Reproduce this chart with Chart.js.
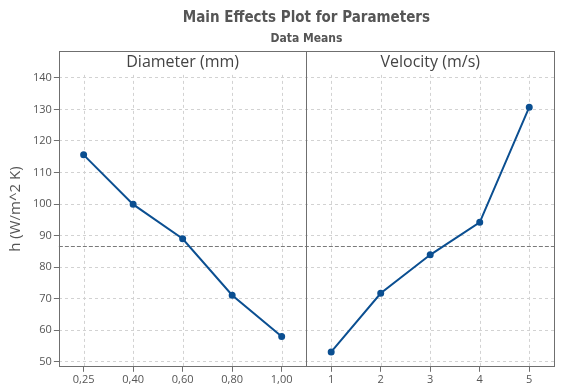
<!DOCTYPE html>
<html>
<head>
<meta charset="utf-8">
<script src="https://cdn.jsdelivr.net/npm/chart.js@4.4.1/dist/chart.umd.min.js"></script>
<style>
html, body { margin: 0; padding: 0; background: #fff; }
#wrap { width: 565px; height: 387px; }
</style>
</head>
<body>
<div id="wrap"><canvas id="grafica"></canvas></div>
<script>
var diametros = ['0,25', '0,40', '0,60', '0,80', '1,00'];
var velocidades = ['1', '2', '3', '4', '5'];
var hDiametro = [115.6, 99.9, 89.0, 71.1, 58.0];
var hVelocidad = [53.1, 71.7, 83.9, 94.2, 130.7];
var paneles = ['Diameter (mm)', 'Velocity (m/s)'];
var ticksY = [50, 60, 70, 80, 90, 100, 110, 120, 130, 140];

var etiquetas = diametros.concat(velocidades);
var vacios = diametros.map(function(){ return null; });
var todos = hDiametro.concat(hVelocidad);
var media = todos.reduce(function(a, b){ return a + b; }, 0) / todos.length;

var azul = '#0b4f91';
var gris = '#6f6f6f';

var panelPlugin = {
    id: 'panel',
    beforeDatasetsDraw: function(chart) {
        var ctx = chart.ctx;
        var area = chart.chartArea;
        var x = chart.scales.x;
        var y = chart.scales.y;
        var arriba = y.getPixelForValue(ticksY[ticksY.length - 1]);

        ctx.save();
        // lineas verticales de la rejilla
        ctx.strokeStyle = '#d2d2d2';
        ctx.lineWidth = 1;
        ctx.setLineDash([3, 3]);
        for (var i = 0; i < etiquetas.length; i++) {
            var px = Math.round(x.getPixelForValue(i)) + 0.5;
            ctx.beginPath();
            ctx.moveTo(px, arriba - 3);
            ctx.lineTo(px, area.bottom);
            ctx.stroke();
        }
        // linea de la media
        var py = Math.round(y.getPixelForValue(media)) + 0.5;
        ctx.strokeStyle = '#7a7a7a';
        ctx.setLineDash([4, 2]);
        ctx.beginPath();
        ctx.moveTo(area.left, py);
        ctx.lineTo(area.right, py);
        ctx.stroke();
        ctx.restore();
    },
    afterDatasetsDraw: function(chart) {
        var ctx = chart.ctx;
        var area = chart.chartArea;
        var x = chart.scales.x;
        var medio = (x.getPixelForValue(diametros.length - 1) + x.getPixelForValue(diametros.length)) / 2;
        var div = Math.round(medio) + 0.5;

        ctx.save();
        ctx.strokeStyle = gris;
        ctx.lineWidth = 1;
        ctx.beginPath();
        ctx.moveTo(div, area.top);
        ctx.lineTo(div, area.bottom);
        ctx.stroke();
        ctx.strokeRect(Math.round(area.left) + 0.5, Math.round(area.top) + 0.5,
            Math.round(area.right - area.left), Math.round(area.bottom - area.top));

        ctx.fillStyle = '#444';
        ctx.font = '16px "Open Sans", sans-serif';
        ctx.textAlign = 'center';
        ctx.textBaseline = 'middle';
        ctx.fillText(paneles[0], (area.left + medio) / 2, area.top + 11);
        ctx.fillText(paneles[1], (medio + area.right) / 2, area.top + 11);
        ctx.restore();
    }
};

var ctx = document.getElementById('grafica').getContext('2d');
new Chart(ctx, {
    type: 'line',
    data: {
        labels: etiquetas,
        datasets: [
            {
                label: paneles[0],
                data: hDiametro.concat(vacios),
                borderColor: azul,
                backgroundColor: azul,
                borderWidth: 2,
                pointRadius: 2.5,
                spanGaps: false
            },
            {
                label: paneles[1],
                data: vacios.concat(hVelocidad),
                borderColor: azul,
                backgroundColor: azul,
                borderWidth: 2,
                pointRadius: 2.5,
                spanGaps: false
            }
        ]
    },
    options: {
        responsive: true,
        maintainAspectRatio: false,
        animation: false,
        layout: { padding: { left: 7, right: 11, top: 0, bottom: 0 } },
        plugins: {
            legend: { display: false },
            tooltip: { enabled: false },
            title: {
                display: true,
                text: 'Main Effects Plot for Parameters',
                fullSize: false,
                color: '#555',
                font: { family: '"Liberation Sans Narrow", "DejaVu Sans Condensed", sans-serif', size: 15, weight: 'bold' },
                padding: { top: 9, bottom: 5 }
            },
            subtitle: {
                display: true,
                text: 'Data Means',
                fullSize: false,
                color: '#555',
                font: { family: '"Liberation Sans Narrow", "DejaVu Sans Condensed", sans-serif', size: 12, weight: 'bold' },
                padding: { top: 0, bottom: 5 }
            }
        },
        scales: {
            x: {
                type: 'category',
                offset: true,
                grid: {
                    display: true,
                    drawOnChartArea: false,
                    drawTicks: true,
                    tickLength: 5,
                    tickColor: gris
                },
                border: { display: false },
                ticks: {
                    color: '#555',
                    font: { family: '"Open Sans", sans-serif', size: 11 },
                    padding: 1,
                    maxRotation: 0,
                    autoSkip: false
                }
            },
            y: {
                min: 48.4,
                max: 148.4,
                afterBuildTicks: function(scale) {
                    scale.ticks = ticksY.map(function(v){ return { value: v }; });
                },
                grid: {
                    color: '#d2d2d2',
                    tickColor: gris,
                    tickLength: 5,
                    tickBorderDash: [],
                    drawTicks: true
                },
                border: { display: false, dash: [3, 3] },
                ticks: {
                    color: '#555',
                    font: { family: '"Open Sans", sans-serif', size: 11 },
                    padding: 2
                },
                title: {
                    display: true,
                    text: 'h (W/m^2 K)',
                    color: '#555',
                    font: { family: '"Open Sans", sans-serif', size: 15 },
                    padding: { top: 0, bottom: 6 }
                }
            }
        }
    },
    plugins: [panelPlugin]
});
</script>
</body>
</html>
